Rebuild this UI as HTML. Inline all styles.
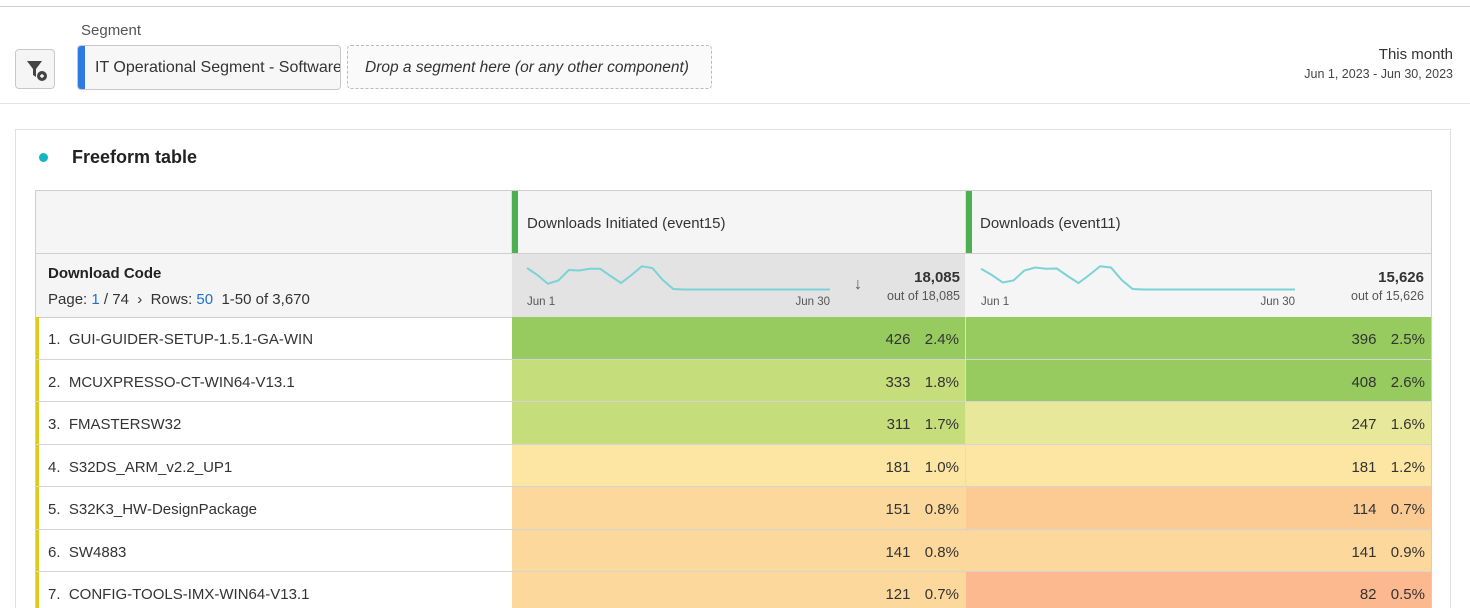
<!DOCTYPE html>
<html style="overflow:hidden;height:608px"><head><meta charset="utf-8"><style>
html,body{overflow:hidden}
body{margin:0;width:1470px;height:608px;overflow:hidden;background:#fff;font-family:"Liberation Sans",sans-serif;color:#2c2c2c;position:relative}
.a{position:absolute}
.t{white-space:nowrap}
</style></head><body>
<div class="a" style="left:0;top:6px;width:1470px;height:1px;background:#d0d0d0"></div>
<div class="a t" style="left:81px;top:22px;font-size:15px;color:#555">Segment</div>
<div class="a" style="left:15px;top:49px;width:38px;height:38px;border:1px solid #c8c8c8;border-radius:4px;background:#f5f5f5">
<svg width="38" height="38"><path d="M11 11h15l-6 8v8l-3-2v-6z" fill="#444"/><circle cx="26" cy="26" r="5" fill="#444"/><path d="M24 26h4M26 24v4" stroke="#fff" stroke-width="1.4"/></svg></div>
<div class="a t" style="left:77px;top:45px;width:262px;height:43px;border:1px solid #c8c8c8;border-radius:4px;background:#f7f7f7;overflow:hidden">
<div style="position:absolute;left:0;top:0;width:7px;height:43px;background:#2d7be0"></div>
<div style="position:absolute;left:17px;top:13px;font-size:16px;color:#333">IT Operational Segment - Software</div></div>
<div class="a t" style="left:347px;top:45px;width:363px;height:42px;border:1px dashed #bbb;border-radius:4px;background:#fafafa">
<div style="position:absolute;left:17px;top:13px;font-size:15.5px;font-style:italic;color:#333">Drop a segment here (or any other component)</div></div>
<div class="a t" style="right:17px;top:46px;font-size:15px;color:#333;text-align:right">This month</div>
<div class="a t" style="right:17px;top:67px;font-size:12.5px;color:#444">Jun 1, 2023 - Jun 30, 2023</div>
<div class="a" style="left:0;top:103px;width:1470px;height:1px;background:#e2e2e2"></div>
<div class="a" style="left:15px;top:129px;width:1434px;height:480px;border:1px solid #e0e0e0;border-bottom:none"></div>
<div class="a" style="left:39px;top:153px;width:9px;height:9px;border-radius:50%;background:#12b5c0"></div>
<div class="a t" style="left:72px;top:147px;font-size:18px;font-weight:bold;color:#222">Freeform table</div>
<div class="a" style="left:35px;top:190px;width:1395px;height:418px;border:1px solid #cfcfcf;border-bottom:none"></div>
<div class="a" style="left:36px;top:191px;width:1395px;height:62px;background:#f5f5f5;border-bottom:1px solid #cfcfcf"></div>
<div class="a" style="left:511px;top:191px;width:454px;height:62px;border-left:1px solid #ddd">
<div style="position:absolute;left:0;top:0;width:6px;height:62px;background:#4caf50"></div>
<div class="t" style="position:absolute;left:15px;top:24px;font-size:15px;color:#333">Downloads Initiated (event15)</div></div>
<div class="a" style="left:965px;top:191px;width:466px;height:62px;border-left:1px solid #ddd">
<div style="position:absolute;left:0;top:0;width:6px;height:62px;background:#4caf50"></div>
<div class="t" style="position:absolute;left:14px;top:24px;font-size:15px;color:#333">Downloads (event11)</div></div>
<div class="a" style="left:36px;top:254px;width:1395px;height:63px;background:#f5f5f5;border-bottom:1px solid #cfcfcf"></div>
<div class="a t" style="left:48px;top:265px;font-size:15px;font-weight:bold;color:#222">Download Code</div>
<div class="a t" style="left:48px;top:291px;font-size:15px;color:#333">Page: <span style="color:#1f6fd0">1</span> / 74 &nbsp;›&nbsp; Rows: <span style="color:#1f6fd0">50</span> &nbsp;1-50 of 3,670</div>
<div class="a" style="left:512px;top:254px;width:453px;height:63px;background:#e3e3e3"></div>
<svg class="a" id="sp" style="left:0;top:0" width="1470" height="608"></svg>
<div class="a t" style="left:854px;top:276px;font-size:16px;font-weight:bold;color:#555">↓</div>
<div class="a t" style="right:510px;top:269px;font-size:15px;font-weight:bold;color:#333">18,085</div>
<div class="a t" style="right:510px;top:289px;font-size:12.5px;color:#555">out of 18,085</div>
<div class="a t" style="right:46px;top:269px;font-size:15px;font-weight:bold;color:#333">15,626</div>
<div class="a t" style="right:46px;top:289px;font-size:12.5px;color:#555">out of 15,626</div>
<div id="rows"></div>
<script>
const names=["GUI-GUIDER-SETUP-1.5.1-GA-WIN","MCUXPRESSO-CT-WIN64-V13.1","FMASTERSW32","S32DS_ARM_v2.2_UP1","S32K3_HW-DesignPackage","SW4883","CONFIG-TOOLS-IMX-WIN64-V13.1"];
const m1=[426,333,311,181,151,141,121];
const m1pct=["2.4%","1.8%","1.7%","1.0%","0.8%","0.8%","0.7%"];
const m2=[396,408,247,181,114,141,82];
const m2pct=["2.5%","2.6%","1.6%","1.2%","0.7%","0.9%","0.5%"];
const spark1=[880,600,250,380,800,780,850,850,560,280,600,950,880,400,40,20,20,20,20,20,20,20,20,20,20,20,20,20,20,20];
const spark2=[850,600,300,380,780,900,850,860,560,280,600,950,900,400,40,20,20,20,20,20,20,20,20,20,20,20,20,20,20,20];
function heat(v){const s=[[100,"#fcb990"],[118,"#fccb94"],[160,"#fdd89c"],[200,"#fde6a3"],[260,"#e8e89a"],[340,"#c6dd7c"],[1e9,"#97cb5f"]];for(const [t,c] of s)if(v<t)return c;}
const R=document.getElementById('rows');
const top0=317,rh=42.5;
names.forEach((n,i)=>{const y=top0+i*rh;
 const row=document.createElement('div');row.className='a';row.style.cssText=`left:36px;top:${y}px;width:1395px;height:${rh}px;border-bottom:1px solid #d5d5d5;box-sizing:border-box`;
 
 
 row.innerHTML=`<div style="position:absolute;left:0;top:0;width:3px;height:100%;background:#e0c91a"></div><div class="t" style="position:absolute;left:12px;top:14px;font-size:15px;color:#333">${i+1}.&nbsp; ${n}</div>`;
 R.appendChild(row);
 [[m1,m1pct,512,453],[m2,m2pct,966,465]].forEach(([m,p,x,w],k)=>{const c=document.createElement('div');c.className='a';
  c.style.cssText=`left:${x}px;top:${y}px;width:${w}px;height:${rh-1}px;background:${heat(m[i])};${k==0?'border-right:1px solid #ddd':''}`;
  
  
  c.innerHTML=`<div class="t" style="position:absolute;right:6px;top:14px;font-size:15px;color:#333">${m[i]}&nbsp;&nbsp; <span style="display:inline-block;width:36px;text-align:right">${p[i]}</span></div>`;
  R.appendChild(c);});
});
const NS='http://www.w3.org/2000/svg',sv=document.getElementById('sp');
function spark(d,x0,x1){const yT=265,yB=290,mx=1000;
 const pts=d.map((v,i)=>[x0+i*(x1-x0)/(d.length-1),yB-(v/mx)*(yB-yT)]);
 const pl=document.createElementNS(NS,'polyline');pl.setAttribute('points',pts.map(p=>p.join(',')).join(' '));
 pl.setAttribute('fill','none');pl.setAttribute('stroke','#7bd3d6');pl.setAttribute('stroke-width','2');
 
 
 sv.appendChild(pl);
 [[x0,'start','Jun 1'],[x1,'end','Jun 30']].forEach(([x,a,t])=>{const e=document.createElementNS(NS,'text');e.setAttribute('x',x);e.setAttribute('y',305);e.setAttribute('text-anchor',a);e.setAttribute('font-size','11.5');e.setAttribute('fill','#555');e.setAttribute('font-family','Liberation Sans, sans-serif');e.textContent=t;
 
 
 sv.appendChild(e);});}
spark(spark1,527,830);spark(spark2,981,1295);
</script>
</body></html>
